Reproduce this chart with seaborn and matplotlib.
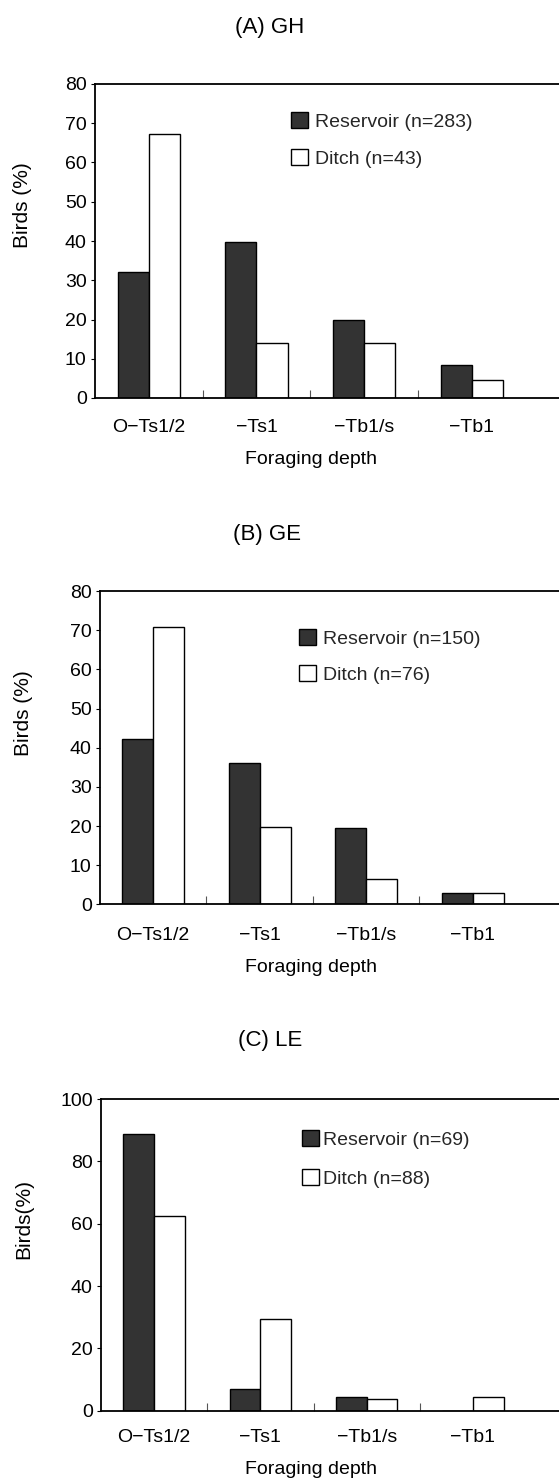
import matplotlib
matplotlib.use("Agg")
import matplotlib.pyplot as plt
import seaborn as sns
import pandas as pd
import numpy as np

sns.set_theme(style="white")
plt.rcParams['font.family'] = ['Liberation Sans', 'DejaVu Sans']

# ---------------- data ----------------
depths = ["O\u2212Ts1/2", "\u2212Ts1", "\u2212Tb1/s", "\u2212Tb1"]

titles = ["(A) GH", "(B) GE", "(C) LE"]
ylabels = ["Birds (%)", "Birds (%)", "Birds(%)"]
xlabel = "Foraging depth"

reservoir_labels = ["Reservoir (n=283)", "Reservoir (n=150)", "Reservoir (n=69)"]
ditch_labels = ["Ditch (n=43)", "Ditch (n=76)", "Ditch (n=88)"]

reservoir_A = [32.2, 39.8, 19.9, 8.4]
ditch_A = [67.3, 13.9, 13.9, 4.7]
reservoir_B = [42.1, 36.2, 19.4, 3.0]
ditch_B = [70.9, 19.8, 6.6, 3.0]
reservoir_C = [88.7, 7.1, 4.5, 0.0]
ditch_C = [62.6, 29.5, 3.6, 4.5]

yticks_A = [0, 10, 20, 30, 40, 50, 60, 70, 80]
yticks_B = [0, 10, 20, 30, 40, 50, 60, 70, 80]
yticks_C = [0, 20, 40, 60, 80, 100]

reservoir_sets = [reservoir_A, reservoir_B, reservoir_C]
ditch_sets = [ditch_A, ditch_B, ditch_C]
ytick_sets = [yticks_A, yticks_B, yticks_C]

# ---------------- layout (pixels) ----------------
W, H = 559, 1481
# left, top, right, bottom in pixels
boxes = [(95, 84, 559, 398), (100, 591, 559, 904.4), (101, 1099, 559, 1410.7)]
title_xy = [(270, 33), (267, 540), (270, 1046)]
ylabel_xy = [(32, 205), (33, 713), (33, 1219)]
xlabel_top = [451, 959, 1461]
tick_pad = [15.0, 16.2, 13.1]
legend_xy = [(291, 112), (299, 629), (302, 1130)]
text_pad = [0.36, 0.36, 0.2]
label_spacing = [0.95, 0.9, 1.05]

fig = plt.figure(figsize=(W / 100, H / 100), dpi=100)

for i in range(3):
    l, t, r, b = boxes[i]
    ax = fig.add_axes([l / W, 1 - b / H, (r - l) / W, (b - t) / H])
    res_lab = reservoir_labels[i]
    dit_lab = ditch_labels[i]
    df = pd.DataFrame({
        "depth": depths * 2,
        "pct": list(reservoir_sets[i]) + list(ditch_sets[i]),
        "habitat": [res_lab] * 4 + [dit_lab] * 4,
    })
    sns.barplot(data=df, x="depth", y="pct", hue="habitat",
                hue_order=[res_lab, dit_lab],
                palette={res_lab: "#333333", dit_lab: "white"},
                edgecolor="black", linewidth=1.0, width=0.58, ax=ax)

    yt = ytick_sets[i]
    ax.set_ylim(yt[0], yt[-1])
    ax.set_yticks(yt)
    ax.set_xlim(-0.5, 3.81)

    for s in ["left", "top", "bottom"]:
        ax.spines[s].set_visible(True)
        ax.spines[s].set_color("black")
        ax.spines[s].set_linewidth(1.3)
    ax.spines["right"].set_visible(False)

    ax.tick_params(axis="y", which="major", direction="out", length=3, width=0.8,
                   pad=3, labelsize=14, colors="black", left=True)
    ax.tick_params(axis="x", which="major", length=0, pad=tick_pad[i],
                   labelsize=14, colors="black")
    ax.set_xticks([0.5, 1.5, 2.5], minor=True)
    ax.tick_params(axis="x", which="minor", direction="in", length=6, width=0.8,
                   bottom=True, color="#555555")

    width_px = r - l
    height_px = b - t
    ax.set_xlabel(xlabel, fontsize=14, color="black")
    ax.xaxis.set_label_coords((311 - l) / width_px, (b - xlabel_top[i]) / height_px)
    ax.set_ylabel(ylabels[i], fontsize=15, color="black")
    yx, yy = ylabel_xy[i]
    ax.yaxis.set_label_coords((yx - l) / width_px, (b - yy) / height_px)

    tx, ty = title_xy[i]
    ax.set_title(titles[i], fontsize=16, x=(tx - l) / width_px,
                 y=(b - ty) / height_px, pad=0, color="black")

    handles, labels = ax.get_legend_handles_labels()
    if ax.get_legend() is not None:
        ax.get_legend().remove()
    lx, ly = legend_xy[i]
    ax.legend(handles, labels, loc="upper left",
              bbox_to_anchor=((lx - l) / width_px, (b - ly) / height_px),
              frameon=False, fontsize=14, borderpad=0, borderaxespad=0,
              handlelength=0.88, handleheight=0.88,
              handletextpad=text_pad[i], labelspacing=label_spacing[i])

fig.savefig("out.png", dpi=100, facecolor="white")
